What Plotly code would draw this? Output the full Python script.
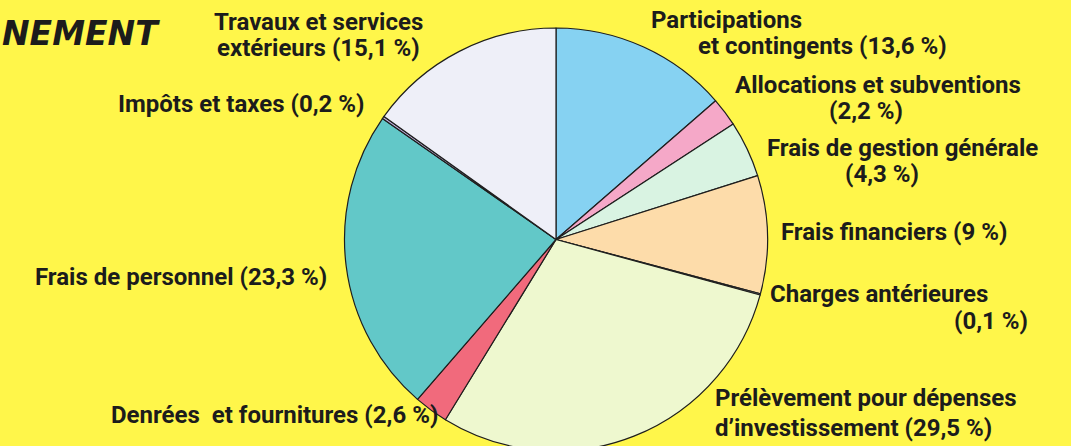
import plotly.graph_objects as go

# ---- data ----
categories = [
    "Participations et contingents",
    "Allocations et subventions",
    "Frais de gestion générale",
    "Frais financiers",
    "Charges antérieures",
    "Prélèvement pour dépenses d’investissement",
    "Denrées et fournitures",
    "Frais de personnel",
    "Impôts et taxes",
    "Travaux et services extérieurs",
]
values = [13.6, 2.2, 4.3, 9, 0.1, 29.5, 2.6, 23.3, 0.2, 15.1]
colors = ["#86d2f2", "#f5a8c8", "#d9f3e2", "#fddcaa", "#c9d6d6",
          "#eef8cf", "#f16a7c", "#62c8c8", "#c2b4e2", "#eeeff8"]

# label lines ({v} is replaced by the formatted value)
label_lines = [
    ["Participations", "et contingents ({v})"],
    ["Allocations et subventions", "({v})"],
    ["Frais de gestion générale", "({v})"],
    ["Frais financiers ({v})"],
    ["Charges antérieures", "({v})"],
    ["Prélèvement pour dépenses", "d’investissement ({v})"],
    ["Denrées  et fournitures ({v})"],
    ["Frais de personnel ({v})"],
    ["Impôts et taxes ({v})"],
    ["Travaux et services", "extérieurs ({v})"],
]
# label placement in pixels: list of (x, y, xanchor) per line
label_pos = [
    [(649, 20, "left"), (949, 46, "right")],
    [(878, 85, "center"), (866, 111, "center")],
    [(902, 148, "center"), (882, 174, "center")],
    [(779, 232, "left")],
    [(768, 294, "left"), (1030, 321, "right")],
    [(713, 398, "left"), (713, 428, "left")],
    [(440, 415, "right")],
    [(33, 277, "left")],
    [(366, 104, "right")],
    [(318, 22, "center"), (318, 48, "center")],
]

W, H = 1071, 458  # slightly taller than the window: the pie runs off the bottom edge


def fmt(v):
    return f"{v:g}".replace(".", ",") + " %"


fig = go.Figure(go.Pie(
    labels=categories,
    values=values,
    sort=False,
    direction="clockwise",
    rotation=0,
    textinfo="none",
    hoverinfo="label+percent",
    marker=dict(colors=colors, line=dict(color="#1e1e1e", width=1.2)),
    domain=dict(x=[344.5 / W, 767.5 / W], y=[1 - 451 / H, 1 - 28 / H]),
    showlegend=False,
))

font_family = "Roboto, Liberation Sans, sans-serif"
annotations = []
for lines, pos, v in zip(label_lines, label_pos, values):
    for line, (px, py, anc) in zip(lines, pos):
        annotations.append(dict(
            text="<b>" + line.replace("{v}", fmt(v)) + "</b>",
            x=px / W, y=1 - py / H, xref="paper", yref="paper",
            xanchor=anc, yanchor="middle", showarrow=False,
            font=dict(family=font_family, size=24, color="#1c1c1c"),
        ))

annotations.append(dict(
    text="<b><i>NEMENT</i></b>",
    x=0, y=1 - 33 / H, xref="paper", yref="paper",
    xanchor="left", yanchor="middle", showarrow=False,
    font=dict(family="DejaVu Sans, Arial Black, sans-serif", size=33, color="#1c1c1c"),
))

fig.update_layout(
    width=W, height=H,
    margin=dict(l=0, r=0, t=0, b=0),
    paper_bgcolor="#fff64a",
    plot_bgcolor="#fff64a",
    annotations=annotations,
)

fig.write_html(
    "out.html",
    config=dict(displayModeBar=False),
    post_script="document.body.style.margin='0';document.body.style.overflow='hidden';",
)
